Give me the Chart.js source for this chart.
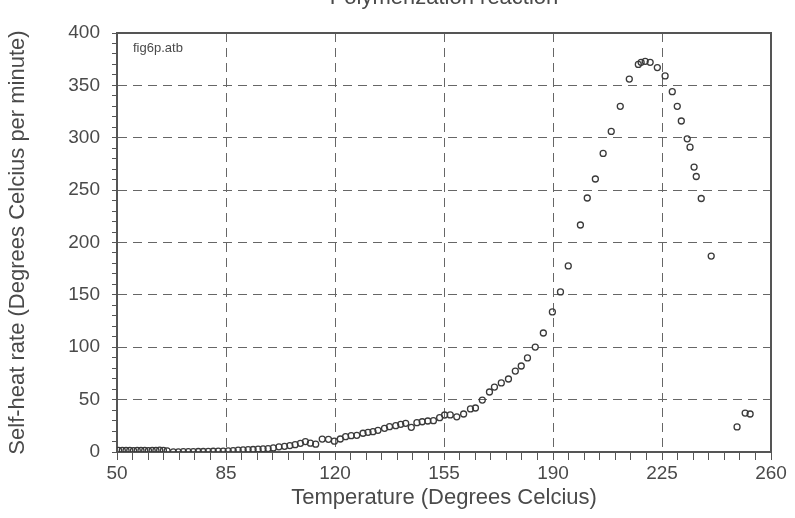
<!DOCTYPE html>
<html>
<head>
<meta charset="utf-8">
<script src="https://cdn.jsdelivr.net/npm/chart.js@4/dist/chart.umd.min.js"></script>
<style>
  html, body { margin: 0; padding: 0; background: #fff; }
  #wrap { width: 795px; height: 518px; position: relative; }
</style>
</head>
<body>
<div id="wrap"><canvas id="chart" width="795" height="518"></canvas></div>
<script>
// temperature (deg C) and self-heat rate (deg C / min)
const temps = [
  50.5, 51.7, 52.9, 54.1, 55.3, 56.5, 57.7, 58.9, 60.1, 61.3, 62.5, 63.7, 64.9, 66.1,
  68.1, 69.7, 71.3, 72.9, 74.5, 76.1, 77.7, 79.3, 80.9, 82.5, 84.1, 85.7, 87.3, 88.9,
  90.5, 92.1, 93.7, 95.3, 96.9, 98.5, 100.2, 102.0, 103.8, 105.5, 107.2, 108.9, 110.5,
  112.1, 113.8, 115.9, 117.9, 119.8, 121.7, 123.4, 125.2, 127.0, 129.0, 130.6, 132.2,
  133.8, 135.9, 137.5, 139.5, 141.1, 142.7, 144.5, 146.3, 148.0, 149.8, 151.6, 153.6,
  155.2, 157.0, 159.1, 161.3, 163.5, 165.1, 167.3, 169.6, 171.2, 173.4, 175.7, 177.9,
  179.8, 181.8, 184.3, 186.9, 189.8, 192.4, 194.9, 198.8, 201.0, 203.6, 206.1, 208.7,
  211.6, 214.5, 217.4, 218.3, 219.6, 221.2, 223.5, 226.0, 228.3, 229.9, 231.2, 233.1,
  234.0, 235.3, 236.0, 237.6, 240.8, 249.1, 251.7, 253.3
];
const rates = [
  1.6, 1.5, 1.6, 1.5, 1.4, 1.5, 1.6, 1.5, 1.4, 1.5, 1.6, 1.7, 1.5, 1.0,
  0.2, 0.2, 0.3, 0.4, 0.4, 0.5, 0.5, 0.6, 0.7, 0.8, 0.9, 1.1, 1.4, 1.7,
  2.0, 2.3, 2.4, 2.7, 3.0, 3.3, 3.9, 4.9, 5.4, 6.1, 7.0, 8.3, 10.0,
  8.4, 7.5, 12.3, 12.1, 10.3, 12.4, 14.6, 15.6, 15.9, 17.9, 18.8, 19.4,
  20.7, 22.6, 24.2, 25.1, 26.4, 27.4, 23.6, 28.0, 28.9, 29.6, 29.9, 32.8,
  35.3, 35.4, 33.6, 36.3, 41.1, 42.0, 49.6, 57.3, 62.0, 65.9, 69.7, 77.3,
  82.1, 89.8, 100.2, 113.6, 133.7, 152.8, 177.6, 216.7, 242.5, 260.6, 285, 306,
  330, 356, 370, 372, 373, 372, 367, 359, 344, 330, 316, 299,
  291, 272, 263, 242, 187, 23.9, 37.2, 36.3
];
const xTickLabels = [50, 85, 120, 155, 190, 225, 260];
const yTickLabels = [0, 50, 100, 150, 200, 250, 300, 350, 400];

const FONT = '"Liberation Sans", Arial, sans-serif';
const INK = '#4a4a4a';

const points = temps.map((t, i) => ({ x: t, y: rates[i] }));

const decor = {
  id: 'decor',
  afterDraw(chart) {
    const ctx = chart.ctx;
    const a = chart.chartArea;
    ctx.save();
    // frame on top and right
    ctx.strokeStyle = '#555';
    ctx.lineWidth = 2;
    ctx.beginPath();
    ctx.moveTo(a.left, a.top);
    ctx.lineTo(a.right, a.top);
    ctx.lineTo(a.right, a.bottom);
    ctx.stroke();
    // title (cut off at the top edge, like the scan)
    ctx.fillStyle = INK;
    ctx.font = '22px ' + FONT;
    ctx.textAlign = 'center';
    ctx.textBaseline = 'alphabetic';
    ctx.fillText('Polymerization reaction', (a.left + a.right) / 2, 4);
    // file tag
    ctx.font = '13px ' + FONT;
    ctx.textAlign = 'left';
    ctx.textBaseline = 'middle';
    ctx.fillText('fig6p.atb', a.left + 16, a.top + 15);
    ctx.restore();
  }
};

new Chart(document.getElementById('chart'), {
  type: 'scatter',
  data: {
    datasets: [{
      label: 'Self-heat rate',
      data: points,
      pointStyle: 'circle',
      pointRadius: 3,
      pointBorderWidth: 1.3,
      borderColor: '#3a3a3a',
      backgroundColor: 'rgba(255,255,255,0)'
    }]
  },
  options: {
    responsive: false,
    animation: false,
    layout: { padding: { left: 0, right: 24, top: 33, bottom: 0 } },
    plugins: { legend: { display: false }, tooltip: { enabled: false } },
    scales: {
      x: {
        type: 'linear',
        min: 50, max: 260,
        afterFit(s) { s.height = 66; },
        border: { display: true, color: '#555', width: 2, dash: [9, 6] },
        grid: {
          color: c => xTickLabels.includes(Math.round(c.tick.value)) ? '#666' : 'rgba(0,0,0,0)',
          lineWidth: 1,
          drawTicks: true,
          tickLength: 8,
          tickColor: '#555',
          tickWidth: 1,
          tickBorderDash: []
        },
        ticks: {
          stepSize: 5,
          autoSkip: false,
          maxRotation: 0,
          padding: 2,
          color: INK,
          font: { family: FONT, size: 19 },
          callback: v => xTickLabels.includes(Math.round(v)) ? String(Math.round(v)) : ''
        },
        title: {
          display: true,
          text: 'Temperature (Degrees Celcius)',
          color: INK,
          font: { family: FONT, size: 22 },
          padding: { top: 2, bottom: 7 }
        }
      },
      y: {
        type: 'linear',
        min: 0, max: 400,
        afterFit(s) { s.width = 117; },
        border: { display: true, color: '#555', width: 2, dash: [9, 6] },
        grid: {
          color: c => yTickLabels.includes(Math.round(c.tick.value)) ? '#666' : 'rgba(0,0,0,0)',
          lineWidth: 1,
          drawTicks: true,
          tickLength: 5,
          tickColor: '#555',
          tickWidth: 1,
          tickBorderDash: []
        },
        ticks: {
          stepSize: 10,
          autoSkip: false,
          padding: 12,
          color: INK,
          font: { family: FONT, size: 19 },
          callback: v => yTickLabels.includes(Math.round(v)) ? String(Math.round(v)) : ''
        },
        title: {
          display: true,
          text: 'Self-heat rate (Degrees Celcius per minute)',
          color: INK,
          font: { family: FONT, size: 22 },
          padding: { top: 5, bottom: 0 }
        }
      }
    }
  },
  plugins: [decor]
});
</script>
</body>
</html>
